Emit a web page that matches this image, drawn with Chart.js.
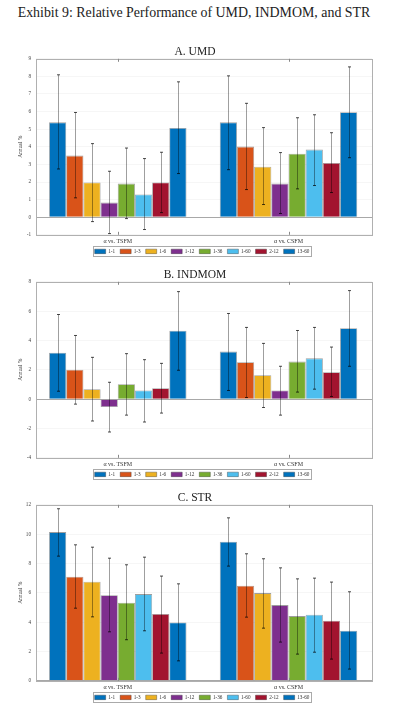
<!DOCTYPE html>
<html>
<head>
<meta charset="utf-8">
<script src="https://cdn.jsdelivr.net/npm/chart.js@4.4.1/dist/chart.umd.min.js"></script>
<style>
  body { margin: 0; background: #fff; width: 396px; height: 712px; position: relative; overflow: hidden; }
  #title { position: absolute; left: 0; top: 5px; width: 388px; text-align: center; font: 13.9px 'Liberation Serif', serif; color: #222; }
  .panel { position: absolute; left: 0; width: 396px; height: 226px; }
</style>
</head>
<body>
<div id="title">Exhibit 9: Relative Performance of UMD, INDMOM, and STR</div>
<div class="panel" style="top:38px"><canvas id="chart-a"></canvas></div>
<div class="panel" style="top:261px"><canvas id="chart-b"></canvas></div>
<div class="panel" style="top:484px"><canvas id="chart-c"></canvas></div>
<script>
var categories = ['\u03b1 vs. TSFM', '\u03b1 vs. CSFM'];
var horizons = ['1-1', '1-3', '1-6', '1-12', '1-36', '1-60', '2-12', '13-60'];

// A. UMD
var umdTsfm    = [5.39, 3.50, 1.97, 0.83, 1.91, 1.29, 1.97, 5.07];
var umdTsfmLo  = [2.74, 1.10, -0.25, -0.93, -0.08, -0.70, 0.26, 2.48];
var umdTsfmHi  = [8.09, 5.95, 4.18, 2.61, 3.93, 3.33, 3.69, 7.69];
var umdCsfm    = [5.39, 4.01, 2.87, 1.91, 3.61, 3.84, 3.08, 5.97];
var umdCsfmLo  = [2.70, 1.57, 0.72, 0.21, 1.61, 1.80, 1.40, 3.38];
var umdCsfmHi  = [8.03, 6.47, 5.09, 3.67, 5.65, 5.82, 4.80, 8.54];

// B. INDMOM
var indTsfm    = [3.17, 2.01, 0.68, -0.54, 1.02, 0.59, 0.75, 4.66];
var indTsfmLo  = [0.54, -0.34, -1.49, -2.24, -1.09, -1.56, -0.95, 1.97];
var indTsfmHi  = [5.77, 4.34, 2.85, 1.15, 3.10, 2.69, 2.44, 7.33];
var indCsfm    = [3.24, 2.51, 1.63, 0.59, 2.56, 2.78, 1.83, 4.84];
var indCsfmLo  = [0.59, 0.11, -0.57, -1.09, 0.48, 0.68, 0.18, 2.24];
var indCsfmHi  = [5.84, 4.89, 3.80, 2.24, 4.68, 4.89, 3.55, 7.40];

// C. STR
var strTsfm    = [10.14, 7.09, 6.75, 5.84, 5.32, 5.91, 4.55, 3.98];
var strTsfmLo  = [8.50, 4.95, 4.36, 3.34, 2.80, 3.41, 1.89, 1.36];
var strTsfmHi  = [11.73, 9.27, 9.11, 8.36, 7.91, 8.43, 7.14, 6.61];
var strCsfm    = [9.48, 6.48, 5.98, 5.16, 4.41, 4.50, 4.09, 3.41];
var strCsfmLo  = [7.82, 4.34, 3.59, 2.64, 1.82, 1.95, 1.48, 0.80];
var strCsfmHi  = [11.11, 8.66, 8.32, 7.70, 6.95, 7.00, 6.73, 6.07];

var colors = ['#0072BD', '#D95319', '#EDB120', '#7E2F8E', '#77AC30', '#4DBEEE', '#A2142F', '#0072BD'];
var serif = "'Liberation Serif', serif";

// box, ticks, error bars and legend frame
var extras = {
  id: 'extras',
  afterLayout: function(chart) {
    // legend and title sit centred over the plot, not the canvas
    chart.legend.left += 16; chart.legend.right += 16;
    chart.titleBlock.left += 9; chart.titleBlock.right += 9;
  },
  afterDatasetsDraw: function(chart) {
    var ctx = chart.ctx, ys = chart.scales.y, a = chart.chartArea;
    var lo = chart.options.plugins.extras.lo, hi = chart.options.plugins.extras.hi;
    ctx.save();
    chart.data.datasets.forEach(function(ds, i) {
      chart.getDatasetMeta(i).data.forEach(function(bar, j) {
        var x = Math.round(bar.x) + 0.5;
        var y1 = ys.getPixelForValue(lo[j][i]), y2 = ys.getPixelForValue(hi[j][i]);
        ctx.strokeStyle = 'rgba(0,0,0,0.42)';
        ctx.lineWidth = 0.9;
        ctx.beginPath(); ctx.moveTo(x, y1); ctx.lineTo(x, y2); ctx.stroke();
        ctx.strokeStyle = 'rgba(0,0,0,0.8)';
        ctx.beginPath();
        ctx.moveTo(x - 1.5, y1); ctx.lineTo(x + 1.5, y1);
        ctx.moveTo(x - 1.5, y2); ctx.lineTo(x + 1.5, y2);
        ctx.stroke();
      });
    });
    // plot box
    ctx.strokeStyle = '#b0b0b0';
    ctx.lineWidth = 1;
    ctx.strokeRect(Math.round(a.left) + 0.5, Math.round(a.top) + 0.5, Math.round(a.right - a.left), Math.round(a.bottom - a.top));
    // x tick marks
    var xs = chart.scales.x;
    ctx.strokeStyle = '#888';
    categories.forEach(function(c, k) {
      var x = Math.round(xs.getPixelForValue(k + 1)) + 0.5;
      ctx.beginPath();
      ctx.moveTo(x, a.top); ctx.lineTo(x, a.top + 3);
      ctx.moveTo(x, a.bottom); ctx.lineTo(x, a.bottom - 3);
      ctx.stroke();
    });
    ctx.restore();
  },
  afterDraw: function(chart) {
    var hb = chart.legend.legendHitBoxes;
    if (!hb || !hb.length) return;
    var last = hb[hb.length - 1];
    var ctx = chart.ctx;
    ctx.save();
    ctx.strokeStyle = '#aaa';
    ctx.lineWidth = 1;
    var l = Math.round(hb[0].left) - 1.5, t = Math.round(hb[0].top) - 2.5;
    var r = Math.round(last.left + last.width) + 2.5, b = Math.round(hb[0].top + hb[0].height) + 2.5;
    ctx.strokeRect(l, t, r - l, b - t);
    ctx.restore();
  }
};

function makeChart(id, title, tsfm, csfm, lo, hi, ymin, ymax, step) {
  var datasets = horizons.map(function(h, i) {
    return {
      label: h,
      data: [{ x: 1, y: tsfm[i] }, { x: 2, y: csfm[i] }],
      backgroundColor: colors[i],
      borderColor: 'rgba(40,40,40,0.45)',
      borderWidth: 0.8,
      barPercentage: 1,
      categoryPercentage: 0.805
    };
  });
  return new Chart(document.getElementById(id).getContext('2d'), {
    type: 'bar',
    data: { datasets: datasets },
    plugins: [extras],
    options: {
      responsive: true,
      maintainAspectRatio: false,
      animation: false,
      layout: { padding: { left: 0, right: 24, top: 0, bottom: 0 } },
      plugins: {
        title: { display: true, text: title, color: '#222', font: { family: serif, size: 11.5, weight: 'normal' }, padding: { top: 7, bottom: 0 } },
        legend: {
          position: 'bottom',
          labels: { boxWidth: 11, boxHeight: 4.5, padding: 5, color: '#333', font: { family: serif, size: 5.2 } }
        },
        tooltip: { enabled: false },
        extras: { lo: lo, hi: hi }
      },
      scales: {
        x: {
          type: 'linear',
          min: 0.521, max: 2.489,
          offset: false,
          grid: { display: false, drawTicks: false },
          border: { display: false },
          ticks: {
            stepSize: 1, includeBounds: false, autoSkip: false, maxRotation: 0,
            color: '#333', padding: 3, font: { family: serif, size: 6 },
            callback: function(v) { return categories[v - 1] || ''; }
          },
          afterFit: function(s) { s.height = 9; }
        },
        y: {
          min: ymin, max: ymax,
          border: { display: false },
          grid: {
            drawTicks: false,
            color: function(c) { return c.tick.value === 0 ? '#a8a8a8' : '#f0f0f0'; },
            lineWidth: function(c) { return c.tick.value === 0 ? 1 : 0.6; }
          },
          ticks: { stepSize: step, color: '#444', padding: 5, font: { family: serif, size: 5.2 } },
          title: { display: true, text: 'Annual %', color: '#333', padding: { top: 17, bottom: 0 }, font: { family: serif, size: 5.5 } },
          afterFit: function(s) { s.width = 36; }
        }
      }
    }
  });
}

makeChart('chart-a', 'A. UMD', umdTsfm, umdCsfm, [umdTsfmLo, umdCsfmLo], [umdTsfmHi, umdCsfmHi], -1, 9, 1);
makeChart('chart-b', 'B. INDMOM', indTsfm, indCsfm, [indTsfmLo, indCsfmLo], [indTsfmHi, indCsfmHi], -4, 8, 2);
makeChart('chart-c', 'C. STR', strTsfm, strCsfm, [strTsfmLo, strCsfmLo], [strTsfmHi, strCsfmHi], 0, 12, 2);
</script>
</body>
</html>
